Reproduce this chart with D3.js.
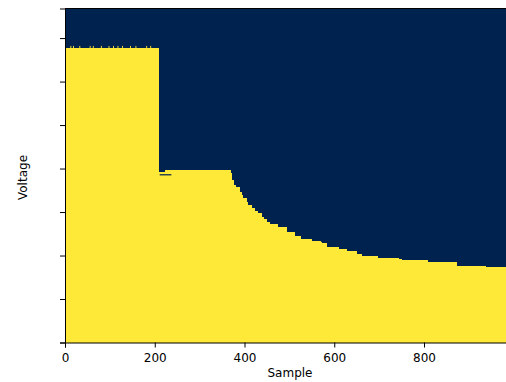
<!DOCTYPE html>
<html>
<head>
<meta charset="utf-8">
<script src="https://cdn.jsdelivr.net/npm/d3@7"></script>
<style>
  html, body { margin: 0; padding: 0; background: #ffffff; }
  svg { display: block; }
  text { font-family: "DejaVu Sans", sans-serif; fill: #000; }
</style>
</head>
<body>
<svg id="chart" width="506" height="382"></svg>
<script>
// Step start sample and voltage level (arbitrary units; y tick labels are empty)
const stepSamples = [0, 209, 223, 370, 373, 377, 381, 390, 394, 397, 405, 408, 416, 423, 431, 438, 444, 450, 457, 475, 494, 512, 527, 550, 570, 572, 583, 611, 628, 651, 661, 698, 744, 750, 810, 873, 938, 1000];
const stepVoltages = [6.77, 3.93, 3.966, 3.89, 3.736, 3.621, 3.582, 3.467, 3.391, 3.315, 3.237, 3.161, 3.085, 3.03, 2.97, 2.878, 2.85, 2.777, 2.724, 2.648, 2.547, 2.455, 2.379, 2.333, 2.317, 2.28, 2.202, 2.149, 2.11, 2.034, 1.989, 1.949, 1.913, 1.89, 1.844, 1.766, 1.729, 1.729];
// Small noise spikes on the plateau (sample positions)
const spikeSamples = [12, 18, 32, 55, 62, 80, 97, 107, 117, 127, 145, 157, 181, 190];
const spikeVoltage = 6.82;
// Thin dark gap near the step-down
const gapSamples = [211, 237];
const gapVoltage = 3.87;

const xTicks = [0, 200, 400, 600, 800];
const yTicks = [0, 1, 2, 3, 4, 5, 6, 7];
const xDomain = [0, 1000];
const yDomain = [0, 7.68];

const svg = d3.select("#chart");
const margin = { left: 65, top: 8.5, bottom: 342.5 };
const x = d3.scaleLinear().domain(xDomain).range([margin.left, margin.left + 448.75]);
const y = d3.scaleLinear().domain(yDomain).range([margin.bottom, margin.top]);

const navy = "#00224e", yellow = "#fee838";

svg.append("rect")
  .attr("x", x(xDomain[0])).attr("y", y(yDomain[1]))
  .attr("width", x(xDomain[1]) - x(xDomain[0]))
  .attr("height", y(yDomain[0]) - y(yDomain[1]))
  .attr("fill", navy);

const data = stepSamples.map((s, i) => ({ s, v: stepVoltages[i] }));
const area = d3.area()
  .curve(d3.curveStepAfter)
  .x(d => x(d.s))
  .y0(y(0))
  .y1(d => y(d.v));

svg.append("path").datum(data).attr("d", area).attr("fill", yellow)
  .attr("shape-rendering", "crispEdges");

svg.selectAll("rect.spike").data(spikeSamples).enter().append("rect")
  .attr("class", "spike")
  .attr("x", d => x(d)).attr("width", x(2) - x(0))
  .attr("y", y(spikeVoltage)).attr("height", y(stepVoltages[0]) - y(spikeVoltage) + 0.5)
  .attr("fill", yellow);

svg.append("rect")
  .attr("x", x(gapSamples[0])).attr("width", x(gapSamples[1]) - x(gapSamples[0]))
  .attr("y", y(gapVoltage)).attr("height", 1.2)
  .attr("fill", navy);

// Axes
const xAxis = d3.axisBottom(x).tickValues(xTicks).tickSize(5).tickPadding(5.5);
const yAxis = d3.axisLeft(y).tickValues(yTicks).tickSize(5).tickFormat("");

const gx = svg.append("g").attr("transform", `translate(0,${margin.bottom})`).call(xAxis);
const gy = svg.append("g").attr("transform", `translate(${margin.left},0)`).call(yAxis);
[gx, gy].forEach(g => {
  g.select(".domain").attr("stroke", "#000").attr("stroke-width", 1);
  g.selectAll(".tick line").attr("stroke", "#000").attr("stroke-width", 1);
  g.selectAll(".tick text").attr("font-size", 12).attr("font-family", "DejaVu Sans, sans-serif").attr("fill", "#000");
});
// Top spine
svg.append("line")
  .attr("x1", x(xDomain[0])).attr("x2", x(xDomain[1]))
  .attr("y1", y(yDomain[1])).attr("y2", y(yDomain[1]))
  .attr("stroke", "#000").attr("stroke-width", 1);

svg.append("text").attr("x", 290).attr("y", 377)
  .attr("text-anchor", "middle").attr("font-size", 12).text("Sample");
svg.append("text")
  .attr("transform", "translate(26.5,177.5) rotate(-90)")
  .attr("text-anchor", "middle").attr("font-size", 12).text("Voltage");
</script>
</body>
</html>
